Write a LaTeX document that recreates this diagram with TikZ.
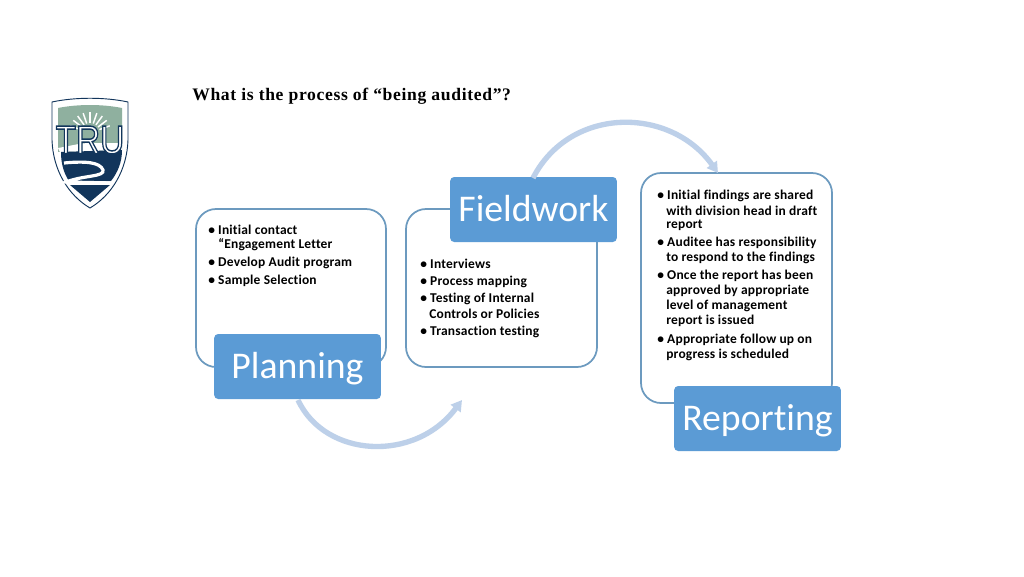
\documentclass[tikz,border=0pt]{standalone}
\usepackage{fontspec}
\setmainfont[Ligatures=NoCommon]{Carlito}
\newfontfamily\titlefont[LetterSpace=3.7]{Liberation Serif}
\newfontfamily\logofont{Liberation Sans}
\newfontfamily\itemfont[Ligatures=NoCommon,LetterSpace=1.5]{Carlito}
\usetikzlibrary{arrows.meta}
\definecolor{bluefill}{HTML}{5B9BD5}
\definecolor{boxline}{HTML}{6C9ABF}
\definecolor{arrowblue}{HTML}{BDD0E9}
\definecolor{navy}{HTML}{12355B}
\definecolor{sage}{HTML}{8FB09F}
\tikzset{
  textbox/.style={draw=boxline,line width=1.3pt,fill=white,rounded corners=15pt},
  labelbox/.style={fill=bluefill,rounded corners=3pt},
  labeltext/.style={text=white,font=\fontsize{28.3pt}{30pt}\selectfont,inner sep=0pt},
  item/.style={anchor=west,inner sep=0pt,text=black,font=\itemfont\bfseries\fontsize{10.1pt}{11pt}\selectfont},
  flow/.style={draw=arrowblue,line width=4pt,-{Triangle[length=8pt,width=9pt]}},
}
\begin{document}
\begin{tikzpicture}[x=0.75pt,y=-0.75pt]
\useasboundingbox (0,0) rectangle (1024,576);
\fill[white] (0,0) rectangle (1024,576);
% title
\node[anchor=west,inner sep=0pt,font=\titlefont\bfseries\fontsize{13.2pt}{15pt}\selectfont] (title) at (192,96) {What is the process of “being audited”?};
% logo
\draw[fill=white,draw=navy,line width=0.7pt] (52,102) .. controls (75,97) and (105,97) .. (128,102) -- (128,140) .. controls (127,170) and (112,195) .. (90,208) .. controls (68,195) and (53,170) .. (52,140) -- cycle;
\fill[sage] (58,108) .. controls (78,104) and (102,104) .. (122,108) -- (122,150) -- (58,152) -- cycle;
\fill[white] (58,148) .. controls (70,146) and (80,143) .. (90,143) -- (122,143) -- (122,150) -- (60,152) -- cycle;
\fill[navy] (61,152) -- (122,150) .. controls (122,162) and (118,172) .. (111,181) -- (69,181) .. controls (63,172) and (61,162) .. (61,152) -- cycle;
\fill[navy] (70,185) -- (110,185) -- (90,202) -- cycle;
\draw[white,line width=2.4pt] (64,163) .. controls (85,161) and (100,162) .. (103,170) .. controls (105,177) and (84,175) .. (66,182) -- (113,183);
\foreach \a in {20,37,54,71,90,109,126,143,160}
  \draw[white,line width=1.1pt] ({90+10*cos(\a)},{133-10*sin(\a)}) -- ({90+21*cos(\a)},{133-21*sin(\a)});
\node[font=\logofont\fontsize{25pt}{25pt}\selectfont,text=white,inner sep=0pt,yscale=1.2,transform shape] (logotext) at (90,140) {\special{pdf:code 2 Tr 0.07 0.21 0.36 RG 0.9 w}TRU\special{pdf:code 0 Tr}};
% flow arrow ends
\coordinate (a1s) at (298,400);
\coordinate (a1e) at (462,400);
\coordinate (a2s) at (533,178);
\coordinate (a2e) at (718,173);
% planning
\draw[textbox] (196,209) rectangle (386,367);
\node[labelbox,minimum width=125pt,minimum height=48.75pt,inner sep=0pt] (planning) at (297.5,366.5) {};
\node[labeltext] (planningt) at (297.5,368.5) {Planning};
\node[item] (p1) at (208,230) {• Initial contact};
\node[item] (p2) at (218,245) {“Engagement Letter};
\node[item] (p3) at (208,262.5) {• Develop Audit program};
\node[item] (p4) at (208,280.5) {• Sample Selection};
% fieldwork
\draw[textbox] (406,209) rectangle (597,367);
\node[labelbox,minimum width=125pt,minimum height=48.75pt,inner sep=0pt] (fieldwork) at (533.5,209.5) {};
\node[labeltext] (fieldworkt) at (533.5,209) {Fieldwork};
\node[item] (f1) at (420,263.5) {• Interviews};
\node[item] (f2) at (420,281.5) {• Process mapping};
\node[item] (f3) at (420,299) {• Testing of Internal};
\node[item] (f4) at (429,314) {Controls or Policies};
\node[item] (f5) at (420,331.5) {• Transaction testing};
% reporting
\draw[textbox] (641,173) rectangle (832,403);
\node[labelbox,minimum width=125pt,minimum height=48.75pt,inner sep=0pt] (reporting) at (757.5,418.5) {};
\node[labeltext] (reportingt) at (757.5,420.5) {Reporting};
\node[item] (r1) at (657,195.5) {• Initial findings are shared};
\node[item] (r2) at (666,210.5) {with division head in draft};
\node[item] (r3) at (666,225.5) {report};
\node[item] (r4) at (657,243) {• Auditee has responsibility};
\node[item] (r5) at (666,258) {to respond to the findings};
\node[item] (r6) at (657,276) {• Once the report has been};
\node[item] (r7) at (666,291) {approved by appropriate};
\node[item] (r8) at (666,306) {level of management};
\node[item] (r9) at (666,321) {report is issued};
\node[item] (r10) at (657,339.5) {• Appropriate follow up on};
\node[item] (r11) at (666,354.5) {progress is scheduled};
% arrows
\draw[flow] (a1s) .. controls (325,458) and (415,463) .. (a1e);
\draw[flow] (a2s) .. controls (570,106) and (670,106) .. (a2e);
\end{tikzpicture}
\end{document}
